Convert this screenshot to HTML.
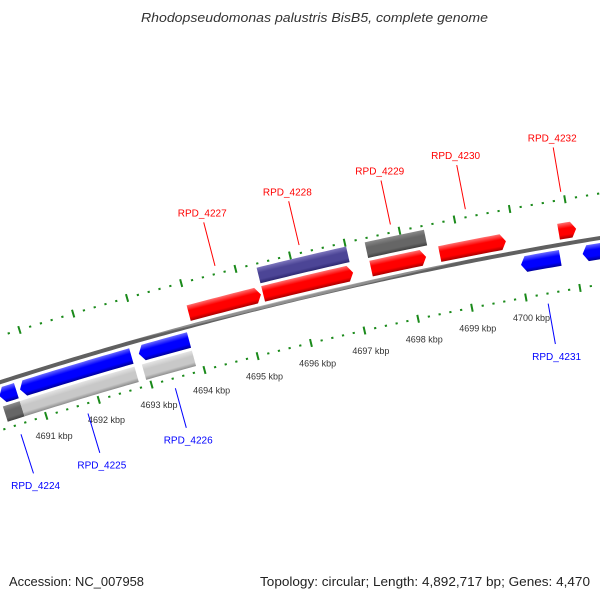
<!DOCTYPE html>
<html><head><meta charset="utf-8"><style>
body{margin:0;background:#fff;}
svg{display:block;font-family:"Liberation Sans","DejaVu Sans",sans-serif;}
</style></head><body>
<svg id="map" width="600" height="600" viewBox="0 0 600 600" xmlns="http://www.w3.org/2000/svg">
<defs id="defs"></defs>
<rect width="600" height="600" fill="#fff"/>
<text x="141" y="22" textLength="347" lengthAdjust="spacingAndGlyphs" font-style="italic" font-size="13" fill="#333">Rhodopseudomonas palustris BisB5, complete genome</text>
<text x="9" y="586" textLength="135" lengthAdjust="spacingAndGlyphs" font-size="12.5" fill="#222">Accession: NC_007958</text>
<text x="260" y="586" textLength="330" lengthAdjust="spacingAndGlyphs" font-size="12.5" fill="#222">Topology: circular; Length: 4,892,717 bp; Genes: 4,470</text>
<g id="plot"></g>
</svg>
<script>
// gene data (kbp)
const geneNames = ["RPD_4224","RPD_4225","RPD_4226","RPD_4227","RPD_4228","RPD_4229","RPD_4230","RPD_4231","RPD_4232","RPD_4233"];
const geneStart = [4690.30,4690.69,4692.93,4693.99,4695.37,4697.36,4698.62,4700.02,4700.79,4701.15];
const geneEnd   = [4690.62,4692.79,4693.87,4695.33,4697.03,4698.37,4699.83,4700.74,4701.11,4703.20];
const geneStrand= [-1,-1,-1,1,1,1,1,-1,1,-1];
const geneLabeled=[true,true,true,true,true,true,true,true,true,false];
// secondary feature row
const featStart = [4690.30,4690.62,4692.93,4695.37,4697.35];
const featEnd   = [4690.62,4692.79,4693.87,4697.01,4698.43];
const featStrand= [-1,-1,-1,1,1];
const featKind  = ["dark","light","light","purple","dark"];
// ruler
const tickStartKbp = 4689.4, tickEndKbp = 4703.2;
const majorLabels = [4691,4692,4693,4694,4695,4696,4697,4698,4699,4700];

const CX=1267, CY=4332, A0=-0.2754, K0=4693, DA=0.01339;
const R_BB=4148, R_UP=4192, R_LO=4102;
function ang(k){return A0+(k-K0)*DA;}
function pt(k,r){const a=ang(k);return [CX+r*Math.sin(a), CY-r*Math.cos(a)];}
const NS="http://www.w3.org/2000/svg";
const plot=document.getElementById('plot'), defs=document.getElementById('defs');
function mk(tag,attrs,parent){const e=document.createElementNS(NS,tag);for(const k in attrs)e.setAttribute(k,attrs[k]);(parent||plot).appendChild(e);return e;}
function arcPts(k1,k2,r){const out=[];const n=Math.max(2,Math.ceil((k2-k1)*10));for(let i=0;i<=n;i++){out.push(pt(k1+(k2-k1)*i/n,r));}return out;}
let gid=0;
function grad(k,rIn,rOut,cols){const id='g'+(gid++);const p1=pt(k,rOut),p2=pt(k,rIn);
 const g=mk('linearGradient',{id:id,gradientUnits:'userSpaceOnUse',x1:p1[0],y1:p1[1],x2:p2[0],y2:p2[1]},defs);
 [[0,cols[0]],[0.35,cols[1]],[0.75,cols[1]],[1,cols[2]]].forEach(s=>mk('stop',{offset:s[0],'stop-color':s[1]},g));return 'url(#'+id+')';}
function shape(k1,k2,rIn,rOut,dir,arrow){const tip=arrow?0.09:0;const rm=(rIn+rOut)/2;let pts=[];
 if(dir>0){pts=pts.concat(arcPts(k1,k2-tip,rOut));if(arrow)pts.push(pt(k2,rm));pts=pts.concat(arcPts(k1,k2-tip,rIn).reverse());}
 else{pts=pts.concat(arcPts(k1+tip,k2,rOut));pts=pts.concat(arcPts(k1+tip,k2,rIn).reverse());if(arrow)pts.push(pt(k1,rm));}
 return 'M'+pts.map(p=>p[0].toFixed(2)+','+p[1].toFixed(2)).join('L')+'Z';}

// backbone
{const pts=arcPts(tickStartKbp,tickEndKbp,R_BB);
 const bb=mk('path',{d:'M'+pts.map(p=>p.join(',')).join('L'),fill:'none',stroke:grad(4696,R_BB-2,R_BB+2,['#c8c8c8','#909090','#606060']),'stroke-width':4});
 
 }

// ruler ticks
for(let i=0;;i++){const k=Math.round((tickStartKbp+i*0.2)*10)/10;if(k>tickEndKbp)break;
 const major=Math.abs(k-Math.round(k))<1e-6;
 [R_UP,R_LO].forEach((r,j)=>{const len=major?4:1;const a=pt(k,r-len),b=pt(k,r+len);
  const t=mk('line',{x1:a[0],y1:a[1],x2:b[0],y2:b[1],stroke:'#1a8a1a','stroke-width':major?2:2.2});
  
  });}
majorLabels.forEach(k=>{const p=pt(k,R_LO-20);const t=mk('text',{x:p[0]+2,y:p[1]+4,'text-anchor':'middle','font-size':'9',fill:'#333'});t.textContent=k+' kbp';
 
 });

// feature row
const featCols={dark:['#8a8a8a','#666','#404040'],light:['#e4e4e4','#c8c8c8','#8e8e8e'],purple:['#7d76bd','#4c4596','#2e2870']};
featStart.forEach((s,i)=>{const e=featEnd[i];const rIn=featStrand[i]>0?4172:4108,rOut=rIn+16;
 const p=mk('path',{d:shape(s,e,rIn,rOut,featStrand[i],false),fill:grad((s+e)/2,rIn,rOut,featCols[featKind[i]])});
 
 });

// genes
geneStart.forEach((s,i)=>{const e=geneEnd[i];const fwd=geneStrand[i]>0;const rIn=fwd?4153:4127,rOut=rIn+16;
 const cols=fwd?['#ff7070','#ff0000','#a80000']:['#6a6aff','#0000ff','#00009a'];
 const p=mk('path',{d:shape(s,e,rIn,rOut,geneStrand[i],true),fill:grad((s+e)/2,rIn,rOut,cols)});
 
 
 if(!geneLabeled[i])return;
 const m=(s+e)/2;const col=fwd?'#ff0000':'#0000ff';
 let a,b,tp;
 if(fwd){a=pt(m,4200);b=pt(m,4245);tp=pt(m,4251);}else{a=pt(m,4092);b=pt(m,4051);tp=pt(m,4044);}
 const ln=mk('line',{x1:a[0],y1:a[1],x2:b[0],y2:b[1],stroke:col,'stroke-width':1});
 
 
 const t=mk('text',{x:tp[0],y:fwd?tp[1]:tp[1]+9,'text-anchor':'middle','font-size':'10',fill:col});t.textContent=geneNames[i];
 
 });
</script>
</body></html>
